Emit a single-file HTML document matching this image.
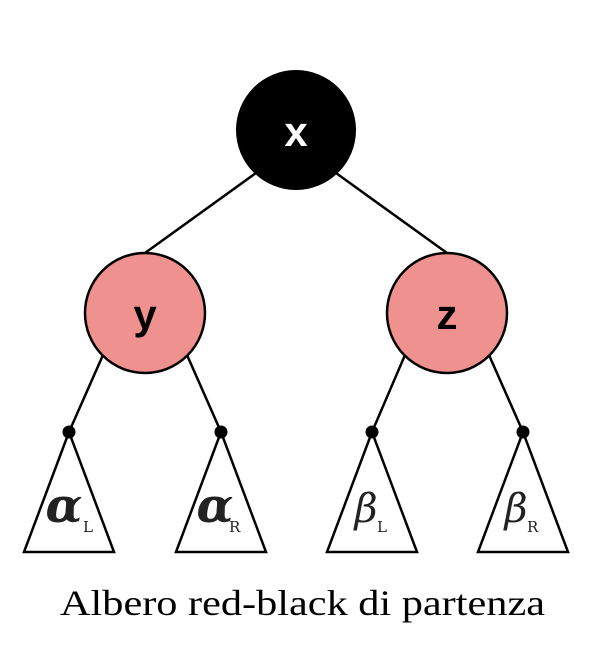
<!DOCTYPE html>
<html><head><style>html,body{margin:0;padding:0;background:#fff}</style></head>
<body>
<svg width="596" height="648" viewBox="0 0 596 648" xmlns="http://www.w3.org/2000/svg">
<g stroke="#000" stroke-width="2.5" fill="none">
<line x1="256" y1="173" x2="145" y2="253"/>
<line x1="336" y1="173" x2="447" y2="253"/>
<line x1="103" y1="355" x2="69" y2="432"/>
<line x1="187" y1="355" x2="221" y2="432"/>
<line x1="405" y1="355" x2="372" y2="432"/>
<line x1="489" y1="355" x2="523" y2="432"/>
<polygon points="69,432 24,552 114,552" fill="#fff"/>
<polygon points="221,432 176,552 266,552" fill="#fff"/>
<polygon points="372,432 327,552 417,552" fill="#fff"/>
<polygon points="523,432 478,552 568,552" fill="#fff"/>
</g>
<circle cx="296" cy="130" r="60" fill="#000"/>
<circle cx="145" cy="313" r="60" fill="#ef918e" stroke="#000" stroke-width="2.5"/>
<circle cx="447" cy="313" r="60" fill="#ef918e" stroke="#000" stroke-width="2.5"/>
<g fill="#000"><circle cx="69" cy="432" r="6.5"/><circle cx="221" cy="432" r="6.5"/><circle cx="372" cy="432" r="6.5"/><circle cx="523" cy="432" r="6.5"/></g>
<g font-family="Liberation Sans, sans-serif" font-weight="bold" font-size="42" text-anchor="middle">
<text x="296" y="146" fill="#fff">x</text>
<text x="145" y="329">y</text>
<text x="447" y="329">z</text>
</g>
<g font-family="DejaVu Serif, serif" fill="#222">
<text x="64" y="522" font-size="48" font-style="italic" font-weight="bold" text-anchor="middle">α</text>
<text x="83" y="532" font-size="15">L</text>
<text x="215" y="522" font-size="48" font-style="italic" font-weight="bold" text-anchor="middle">α</text>
<text x="229" y="532" font-size="15">R</text>
<text x="366" y="522" font-size="40" font-style="italic" text-anchor="middle">β</text>
<text x="377" y="532" font-size="15">L</text>
<text x="516" y="522" font-size="40" font-style="italic" text-anchor="middle">β</text>
<text x="527" y="532" font-size="15">R</text>
</g>
<text x="60" y="615" font-family="Liberation Serif, serif" font-size="36" textLength="485" lengthAdjust="spacingAndGlyphs" fill="#000">Albero red-black di partenza</text>
</svg>
</body></html>
